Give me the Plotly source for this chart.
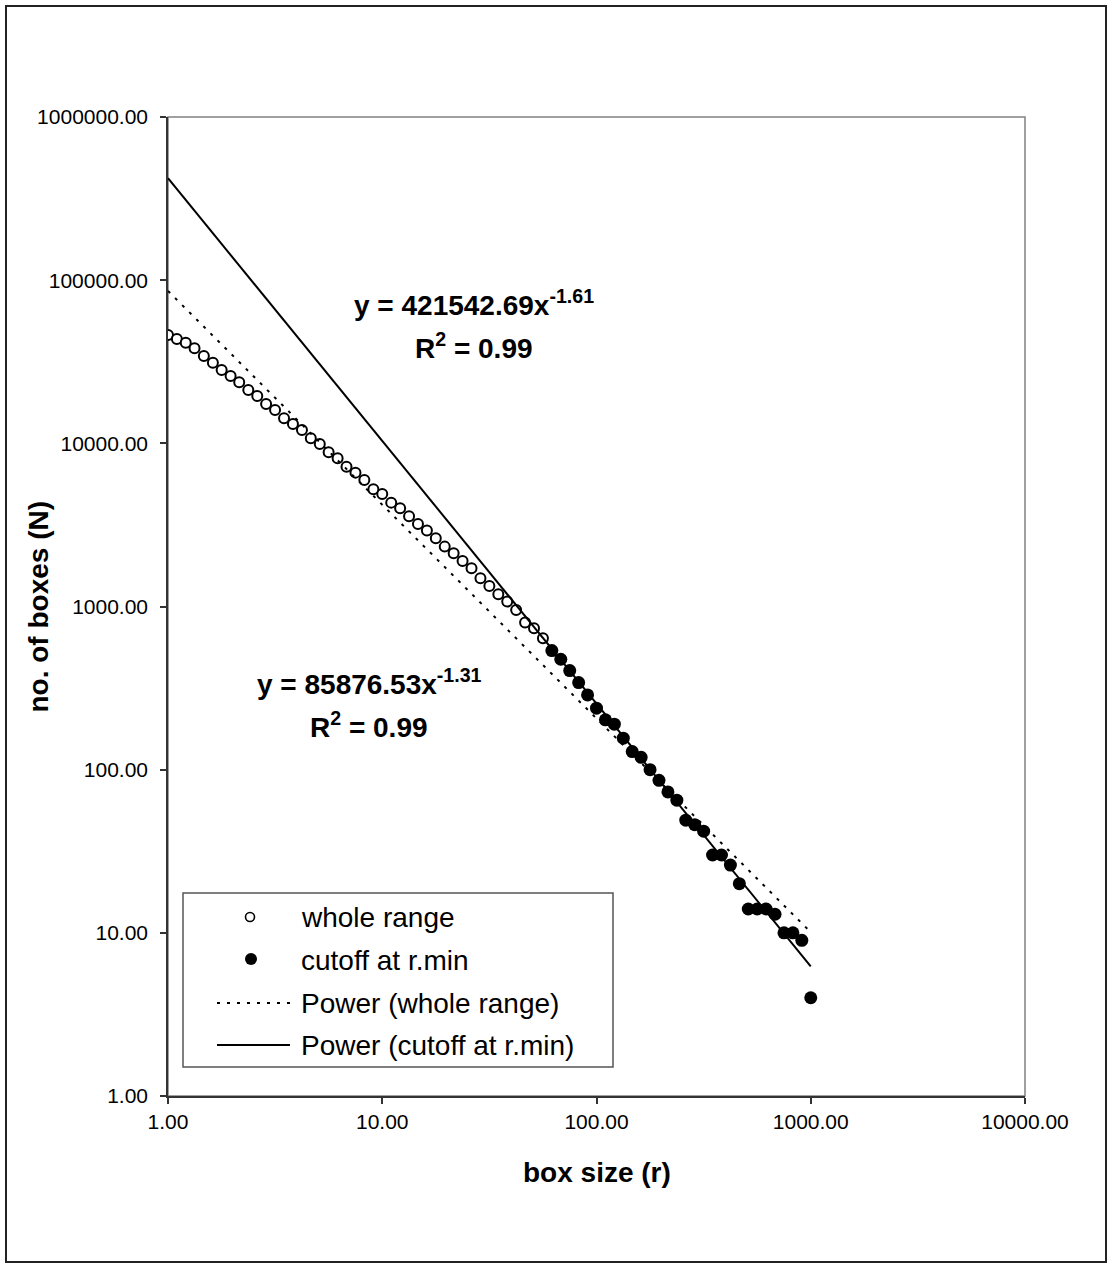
import plotly.graph_objects as go

# ---- data: box-counting results (box size r, number of boxes N) ----
whole_r = [1.00, 1.10, 1.21, 1.33, 1.47, 1.62, 1.78, 1.96, 2.15, 2.37, 2.61, 2.87,
           3.16, 3.48, 3.83, 4.22, 4.64, 5.11, 5.62, 6.19, 6.81, 7.50, 8.25, 9.09,
           10.00, 11.01, 12.12, 13.34, 14.68, 16.16, 17.78, 19.57, 21.54, 23.71,
           26.10, 28.73, 31.62, 34.81, 38.31, 42.17, 46.42, 51.09, 56.23]
whole_n = [46150, 43610, 41400, 38250, 34320, 31220, 28170, 25880, 23680, 21250,
           19520, 17430, 16020, 14250, 13150, 12080, 10750, 9915, 8820, 8103,
           7196, 6614, 5967, 5233, 4898, 4331, 4002, 3575, 3207, 2918, 2620, 2328,
           2121, 1902, 1717, 1491, 1337, 1190, 1072, 953, 797, 736, 639]

cutoff_r = [61.90, 68.13, 74.99, 82.54, 90.85, 100.00, 110.07, 121.15, 133.35,
            146.78, 161.56, 177.83, 195.73, 215.44, 237.14, 261.02, 287.30, 316.23,
            348.07, 383.12, 421.70, 464.16, 510.90, 562.34, 618.97, 681.29, 749.89,
            825.40, 908.52, 1000.00]
cutoff_n = [537, 475, 405, 342, 287, 238, 202, 190, 156, 129, 119, 100, 86, 73, 65,
            49, 46, 42, 30, 30, 26, 20, 14, 14, 14, 13, 10, 10, 9, 4]

# power-law trendlines y = a * x^b
fit_whole = (85876.53, -1.31)
fit_cutoff = (421542.69, -1.61)
fit_r = [1.0, 1000.0]

x_ticks = [1, 10, 100, 1000, 10000]
x_tick_text = ["1.00", "10.00", "100.00", "1000.00", "10000.00"]
y_ticks = [1, 10, 100, 1000, 10000, 100000, 1000000]
y_tick_text = ["1.00", "10.00", "100.00", "1000.00", "10000.00", "100000.00", "1000000.00"]

# ---- page geometry ----
W, H = 1112, 1268
L, R, T, B = 168, 87, 117, 172
PW, PH = W - L - R, H - T - B
FONT = "Arial, 'Liberation Sans', sans-serif"


def px_x(px):
    return (px - L) / PW


def px_y(py):
    return (H - B - py) / PH


fig = go.Figure()

fig.add_trace(go.Scatter(
    x=whole_r, y=whole_n, mode="markers", name="whole range",
    marker=dict(symbol="circle", size=10, color="white",
                line=dict(color="black", width=2)),
))
fig.add_trace(go.Scatter(
    x=cutoff_r, y=cutoff_n, mode="markers", name="cutoff at r.min",
    marker=dict(symbol="circle", size=13, color="black",
                line=dict(color="black", width=0)),
))
fig.add_trace(go.Scatter(
    x=fit_r, y=[fit_whole[0] * r ** fit_whole[1] for r in fit_r], mode="lines",
    name="Power (whole range)",
    line=dict(color="black", width=2, dash="3px,7px"),
))
fig.add_trace(go.Scatter(
    x=fit_r, y=[fit_cutoff[0] * r ** fit_cutoff[1] for r in fit_r], mode="lines",
    name="Power (cutoff at r.min)",
    line=dict(color="black", width=2),
))

axis_common = dict(
    showgrid=False, zeroline=False, showline=True, linecolor="#333333",
    linewidth=1.5, ticks="outside", ticklen=6, tickwidth=1.5, tickcolor="#333333",
    tickfont=dict(family=FONT, size=21, color="black"),
)
fig.update_xaxes(type="log", range=[0, 4], tickvals=x_ticks, ticktext=x_tick_text,
                 **axis_common)
fig.update_yaxes(type="log", range=[0, 6], tickvals=y_ticks, ticktext=y_tick_text,
                 ticklabelstandoff=8, **axis_common)

shapes = [
    # chart border
    dict(type="rect", xref="paper", yref="paper", layer="below",
         x0=px_x(6), x1=px_x(W - 6), y0=px_y(H - 6), y1=px_y(6),
         line=dict(color="#222222", width=2)),
    # plot area border
    dict(type="rect", xref="paper", yref="paper", layer="below",
         x0=0, x1=1, y0=0, y1=1, line=dict(color="#808080", width=1.5)),
    # legend box
    dict(type="rect", xref="paper", yref="paper",
         x0=px_x(183), x1=px_x(613), y0=px_y(1067), y1=px_y(893),
         fillcolor="white", line=dict(color="#555555", width=1.5)),
    # legend symbols
    dict(type="circle", xref="paper", yref="paper", xsizemode="pixel", ysizemode="pixel",
         xanchor=px_x(250), yanchor=px_y(917), x0=-4.5, x1=4.5, y0=-4.5, y1=4.5,
         fillcolor="white", line=dict(color="black", width=1.6)),
    dict(type="circle", xref="paper", yref="paper", xsizemode="pixel", ysizemode="pixel",
         xanchor=px_x(251), yanchor=px_y(959), x0=-6, x1=6, y0=-6, y1=6,
         fillcolor="black", line=dict(color="black", width=0)),
    dict(type="line", xref="paper", yref="paper",
         x0=px_x(217), x1=px_x(297), y0=px_y(1003), y1=px_y(1003),
         line=dict(color="black", width=2, dash="3px,7px")),
    dict(type="line", xref="paper", yref="paper",
         x0=px_x(217), x1=px_x(290), y0=px_y(1045), y1=px_y(1045),
         line=dict(color="black", width=2)),
]

annotations = []
legend_rows = [("whole range", 918), ("cutoff at r.min", 960),
               ("Power (whole range)", 1003), ("Power (cutoff at r.min)", 1045)]
for label, py in legend_rows:
    annotations.append(dict(
        xref="paper", yref="paper", x=px_x(299), y=px_y(py), text=label,
        xanchor="left", yanchor="middle", showarrow=False,
        font=dict(family=FONT, size=28, color="black")))

eq_font = dict(family=FONT, size=28, color="black")
eq_items = [
    ("<b>y = 421542.69x<sup>-1.61</sup></b>", 474, 303),
    ("<b>R<sup>2</sup> = 0.99</b>", 474, 346),
    ("<b>y = 85876.53x<sup>-1.31</sup></b>", 369, 682),
    ("<b>R<sup>2</sup> = 0.99</b>", 369, 725),
]
for text, px, py in eq_items:
    annotations.append(dict(
        xref="paper", yref="paper", x=px_x(px), y=px_y(py), text=text,
        xanchor="center", yanchor="middle", showarrow=False, font=eq_font))

# axis titles
annotations.append(dict(
    xref="paper", yref="paper", x=0.5, y=px_y(1172), text="<b>box size (r)</b>",
    xanchor="center", yanchor="middle", showarrow=False, font=eq_font))
annotations.append(dict(
    xref="paper", yref="paper", x=px_x(38), y=0.5, text="<b>no. of boxes (N)</b>",
    xanchor="center", yanchor="middle", showarrow=False, textangle=-90, font=eq_font))

fig.update_layout(
    width=W, height=H,
    margin=dict(l=L, r=R, t=T, b=B),
    paper_bgcolor="white", plot_bgcolor="white",
    showlegend=False,
    shapes=shapes, annotations=annotations,
    font=dict(family=FONT, color="black"),
)

fig.write_html("out.html")
